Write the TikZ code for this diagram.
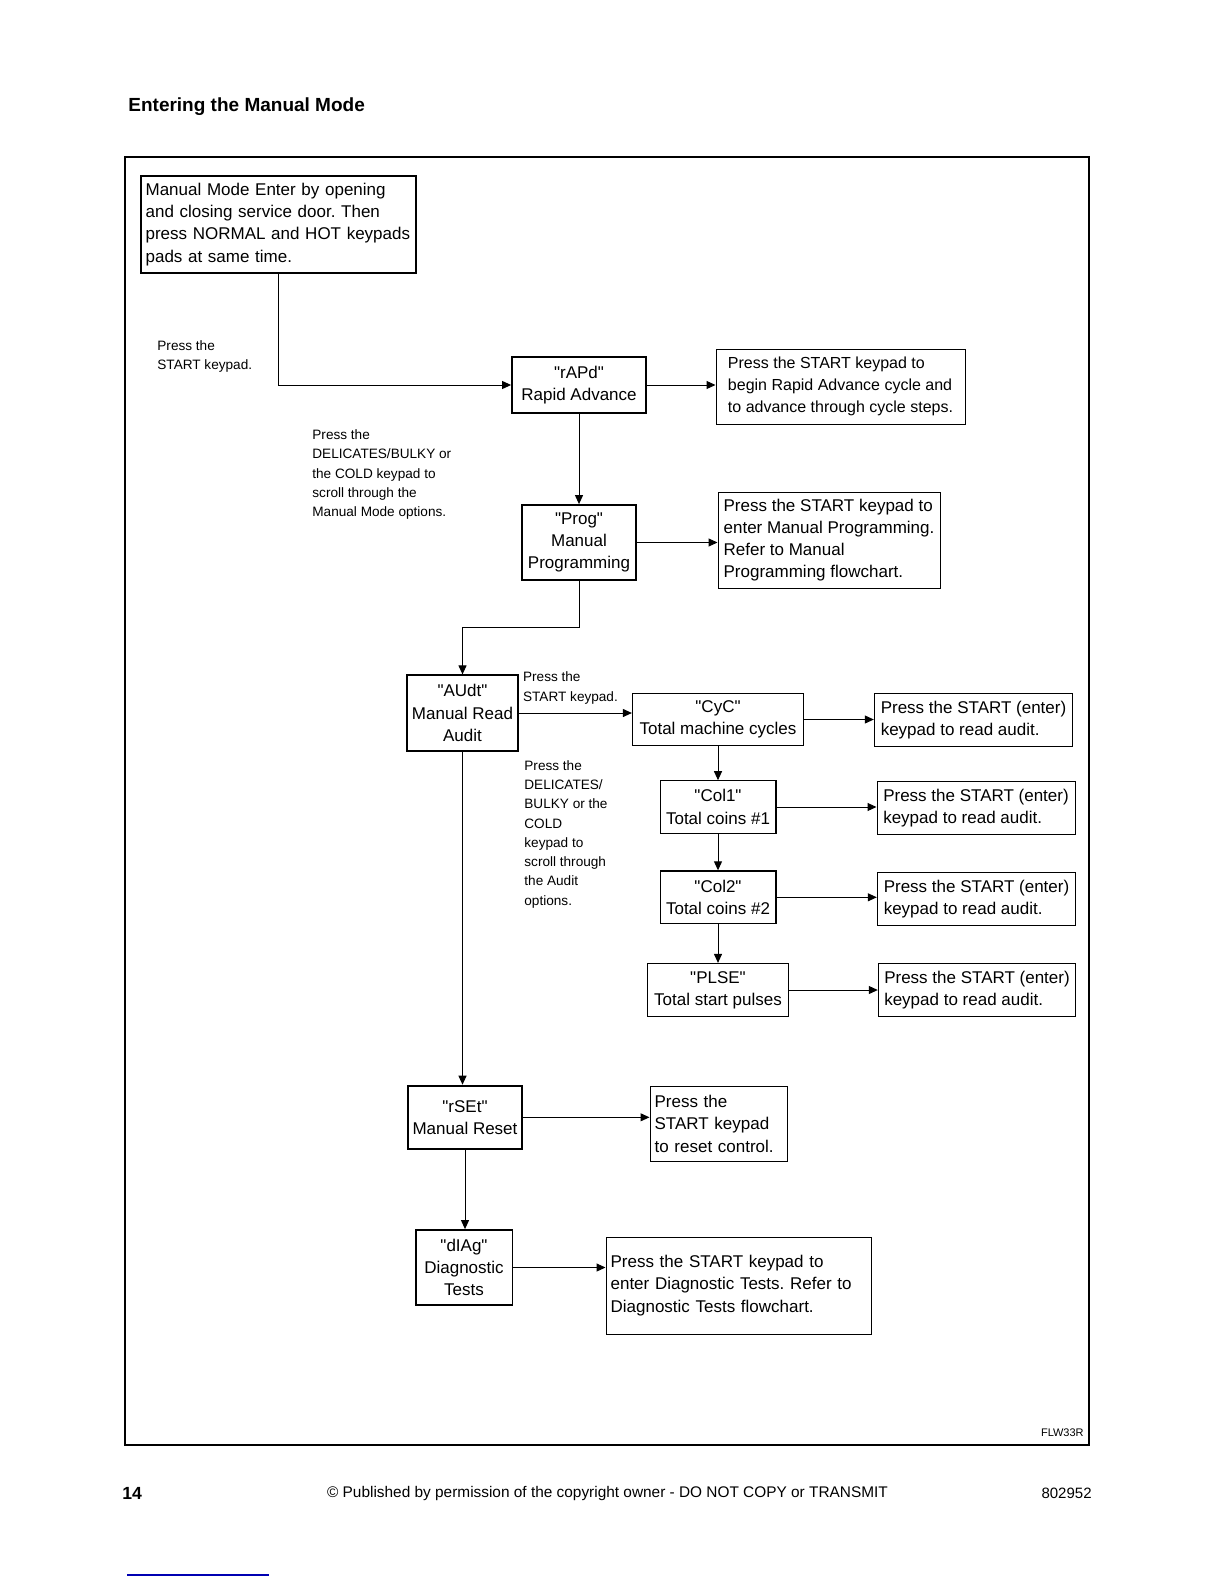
\documentclass[tikz,border=0pt]{standalone}
\usepackage{fontspec}
\setmainfont{Liberation Sans}
\usetikzlibrary{arrows.meta,positioning}
\newcommand{\qmark}{\textquotedbl}
\frenchspacing

\begin{document}
\begin{tikzpicture}[x=0.5pt,y=-0.5pt,
	stepbox/.style={draw,line width=0.9pt,align=center,inner sep=1pt,font={\fontsize{8.5}{11.1}\selectfont}},
	auditbox/.style={draw,line width=0.6pt,align=center,inner sep=1pt,font={\fontsize{8.5}{11.1}\selectfont}},
	infobox/.style={draw,line width=0.5pt,align=left,inner xsep=2.3pt,inner ysep=1pt,font={\fontsize{8.5}{11.1}\selectfont}},
	note/.style={anchor=west,align=left,inner sep=0pt,font={\fontsize{6.8}{9.65}\selectfont}},
	flow/.style={line width=0.5pt,-{Triangle[length=4.5pt,width=4pt]}}]
	 \useasboundingbox (0,0) rectangle (1224,1584);
	 \node at (128,107) [anchor=west,inner sep=0pt,font={\fontsize{9.5}{11}\selectfont\bfseries}] (title) {Entering the Manual Mode};
	 \draw[line width=0.7pt] (125,157) rectangle (1089,1445);

	 % entry and the manual mode options
	 \node at (278.5,224.5) [stepbox,align=left,inner xsep=2.3pt,text width=132.9pt,minimum width=137.5pt,minimum height=48.5pt] (start) {Manual Mode Enter by opening\\and closing service door. Then\\press NORMAL and HOT keypads\\pads at same time.};
	 \node at (157,356.5) [note] (pressstart) {Press the\\START keypad.};
	 \node at (579,385) [stepbox,minimum width=67pt,minimum height=28pt] (rapd) {\qmark rAPd\qmark\\Rapid Advance};
	 \node at (840.5,386.5) [infobox,font={\fontsize{8}{11.1}\selectfont},minimum width=124.5pt,minimum height=37.5pt] (rapdinfo) {Press the START keypad to\\begin Rapid Advance cycle and\\to advance through cycle steps.};
	 \node at (312,474.6) [note] (scrollmodes) {Press the\\DELICATES/BULKY or\\the COLD keypad to\\scroll through the\\Manual Mode options.};
	 \node at (579,542.5) [stepbox,minimum width=56.8pt,minimum height=37.5pt] (prog) {\qmark Prog\qmark\\Manual\\Programming};
	 \node at (829,540) [infobox,minimum width=111pt,minimum height=48pt] (proginfo) {Press the START keypad to\\enter Manual Programming.\\Refer to Manual\\Programming flowchart.};
	 \coordinate (bend) at (462.5,627);

	 % audit
	 \node at (462.5,713) [stepbox,minimum width=55.5pt,minimum height=37.7pt] (audt) {\qmark AUdt\qmark\\Manual Read\\Audit};
	 \node at (522.7,688) [note] (pressaudit) {Press the\\START keypad.};
	 \node at (524,834.2) [note] (scrollaudit) {Press the\\DELICATES/\\BULKY or the\\COLD\\keypad to\\scroll through\\the Audit\\options.};
	 \node at (718,719.5) [auditbox,minimum width=85.5pt,minimum height=26.2pt] (cyc) {\qmark CyC\qmark\\Total machine cycles};
	 \node at (973.5,720) [infobox,minimum width=99.2pt,minimum height=26.7pt] (cycinfo) {Press the START (enter)\\keypad to read audit.};
	 \node at (718,807) [auditbox,minimum width=57.9pt,minimum height=26.2pt] (col1) {\qmark Col1\qmark\\Total coins \#1};
	 \node at (976,808) [infobox,minimum width=99pt,minimum height=26.3pt] (col1info) {Press the START (enter)\\keypad to read audit.};
	 \node at (718,897.3) [auditbox,minimum width=57.9pt,minimum height=26.4pt] (col2) {\qmark Col2\qmark\\Total coins \#2};
	 \node at (976.5,899) [infobox,minimum width=99.2pt,minimum height=26.5pt] (col2info) {Press the START (enter)\\keypad to read audit.};
	 \node at (718,990) [auditbox,minimum width=70.8pt,minimum height=26.5pt] (plse) {\qmark PLSE\qmark\\Total start pulses};
	 \node at (977,990) [infobox,minimum width=98.7pt,minimum height=26.7pt] (plseinfo) {Press the START (enter)\\keypad to read audit.};

	 % reset and diagnostics
	 \node at (465,1117.3) [stepbox,minimum width=57.3pt,minimum height=31.7pt] (rset) {\qmark rSEt\qmark\\Manual Reset};
	 \node at (718.5,1123.8) [infobox,text width=63.9pt,minimum width=68.5pt,minimum height=37.2pt] (rsetinfo) {Press the\\START keypad\\to reset control.};
	 \node at (464,1267.5) [stepbox,minimum width=48.4pt,minimum height=37.5pt] (diag) {\qmark dIAg\qmark\\Diagnostic\\Tests};
	 \node at (738.5,1285.5) [infobox,text width=127.9pt,minimum width=132.5pt,minimum height=48.5pt] (diaginfo) {Press the START keypad to\\enter Diagnostic Tests. Refer to\\Diagnostic Tests flowchart.};

	 % page footer
	 \node at (1084,1433) [anchor=east,inner sep=0pt,font={\fontsize{5.5}{6}\selectfont}] (figid) {FLW33R};
	 \node at (122,1493) [anchor=west,inner sep=0pt,font={\fontsize{8.8}{10}\selectfont\bfseries}] (pageno) {14};
	 \node at (607.5,1493) [inner sep=0pt,font={\fontsize{7.7}{9}\selectfont}] (notice) {© Published by permission of the copyright owner - DO NOT COPY or TRANSMIT};
	 \node at (1092,1493) [anchor=east,inner sep=0pt,font={\fontsize{7.5}{9}\selectfont}] (partno) {802952};
	 \draw[blue!70!black,line width=0.6pt] (127,1575) -- (269,1575);

	 \draw[flow] (start.south) |- (rapd.west);
	 \draw[flow] (rapd.east) -- (rapd.east -| rapdinfo.west);
	 \draw[flow] (rapd.south) -- (prog.north);
	 \draw[flow] (prog.east) -- (prog.east -| proginfo.west);
	 \draw[flow] (prog.south) |- (bend) -- (audt.north);
	 \draw[flow] (audt.east) -- (audt.east -| cyc.west);
	 \draw[flow] (cyc.east) -- (cyc.east -| cycinfo.west);
	 \draw[flow] (cyc.south) -- (col1.north);
	 \draw[flow] (col1.east) -- (col1.east -| col1info.west);
	 \draw[flow] (col1.south) -- (col2.north);
	 \draw[flow] (col2.east) -- (col2.east -| col2info.west);
	 \draw[flow] (col2.south) -- (plse.north);
	 \draw[flow] (plse.east) -- (plse.east -| plseinfo.west);
	 \draw[flow] (audt.south) -- (audt.south |- rset.north);
	 \draw[flow] (rset.east) -- (rset.east -| rsetinfo.west);
	 \draw[flow] (rset.south) -- (rset.south |- diag.north);
	 \draw[flow] (diag.east) -- (diag.east -| diaginfo.west);

\end{tikzpicture}
\end{document}
